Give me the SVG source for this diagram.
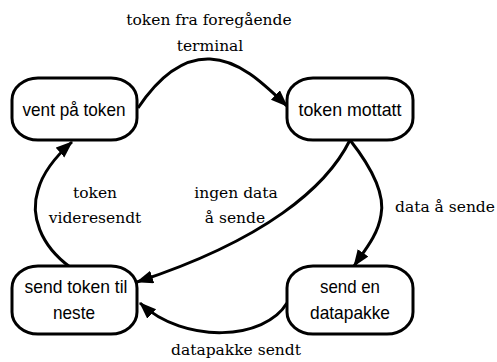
<svg xmlns="http://www.w3.org/2000/svg" width="497" height="362" viewBox="0 0 497 362">
  <style>
    .state { fill: #ffffff; stroke: #000000; stroke-width: 3; }
    .state-label { font-family: "Liberation Sans", Arial, sans-serif; font-size: 18.5px; fill: #000000; text-anchor: middle; }
    .edge { fill: none; stroke: #000000; stroke-width: 3; marker-end: url(#arrow); }
    .edge-label { font-family: "DejaVu Serif", "Liberation Serif", serif; font-size: 15.5px; fill: #000000; text-anchor: middle; }
  </style>
  <defs>
    <marker id="arrow" markerUnits="userSpaceOnUse" markerWidth="18" markerHeight="14" refX="16" refY="6.5" orient="auto">
      <path d="M0,0 L17,6.5 L0,13 Z" fill="#000000"/>
    </marker>
  </defs>
  <rect width="497" height="362" fill="#ffffff"/>

  <!-- transitions -->
  <g id="connectors">
    <path class="edge" d="M138,108 C160,75 185,58 210,59 C240,60 265,85 287,106"/>
    <path class="edge" d="M350,140 C372,168 385,195 381,215 C378,235 365,250 354,266"/>
    <path class="edge" d="M350,140 C327,187 265,240 137,282"/>
    <path class="edge" d="M287,303 C265,340 185,345 140,303"/>
    <path class="edge" d="M70,267 C40,245 30,215 38,190 C43,172 55,157 72,142"/>
    <text class="edge-label" x="209" y="25">token fra foregående</text>
    <text class="edge-label" x="210" y="51">terminal</text>
    <text class="edge-label" x="445" y="212">data å sende</text>
    <text class="edge-label" x="236" y="198">ingen data</text>
    <text class="edge-label" x="235" y="223">å sende</text>
    <text class="edge-label" x="95" y="198">token</text>
    <text class="edge-label" x="95" y="223">videresendt</text>
    <text class="edge-label" x="236" y="355">datapakke sendt</text>
  </g>

  <!-- states -->
  <g id="vent-paa-token">
    <rect class="state" x="12" y="78" width="125" height="62" rx="26" ry="22"/>
    <text class="state-label" x="74" y="116" textLength="103" lengthAdjust="spacingAndGlyphs">vent på token</text>
  </g>
  <g id="token-mottatt">
    <rect class="state" x="287" y="78" width="126" height="62" rx="26" ry="22"/>
    <text class="state-label" x="350" y="116" textLength="103" lengthAdjust="spacingAndGlyphs">token mottatt</text>
  </g>
  <g id="send-token-til-neste">
    <rect class="state" x="12" y="266" width="125" height="68" rx="26" ry="22"/>
    <text class="state-label" x="76" y="293" textLength="103" lengthAdjust="spacingAndGlyphs">send token til</text>
    <text class="state-label" x="74" y="319" textLength="42" lengthAdjust="spacingAndGlyphs">neste</text>
  </g>
  <g id="send-en-datapakke">
    <rect class="state" x="287" y="266" width="126" height="68" rx="26" ry="22"/>
    <text class="state-label" x="350" y="293" textLength="60" lengthAdjust="spacingAndGlyphs">send en</text>
    <text class="state-label" x="350" y="319" textLength="80" lengthAdjust="spacingAndGlyphs">datapakke</text>
  </g>
</svg>
